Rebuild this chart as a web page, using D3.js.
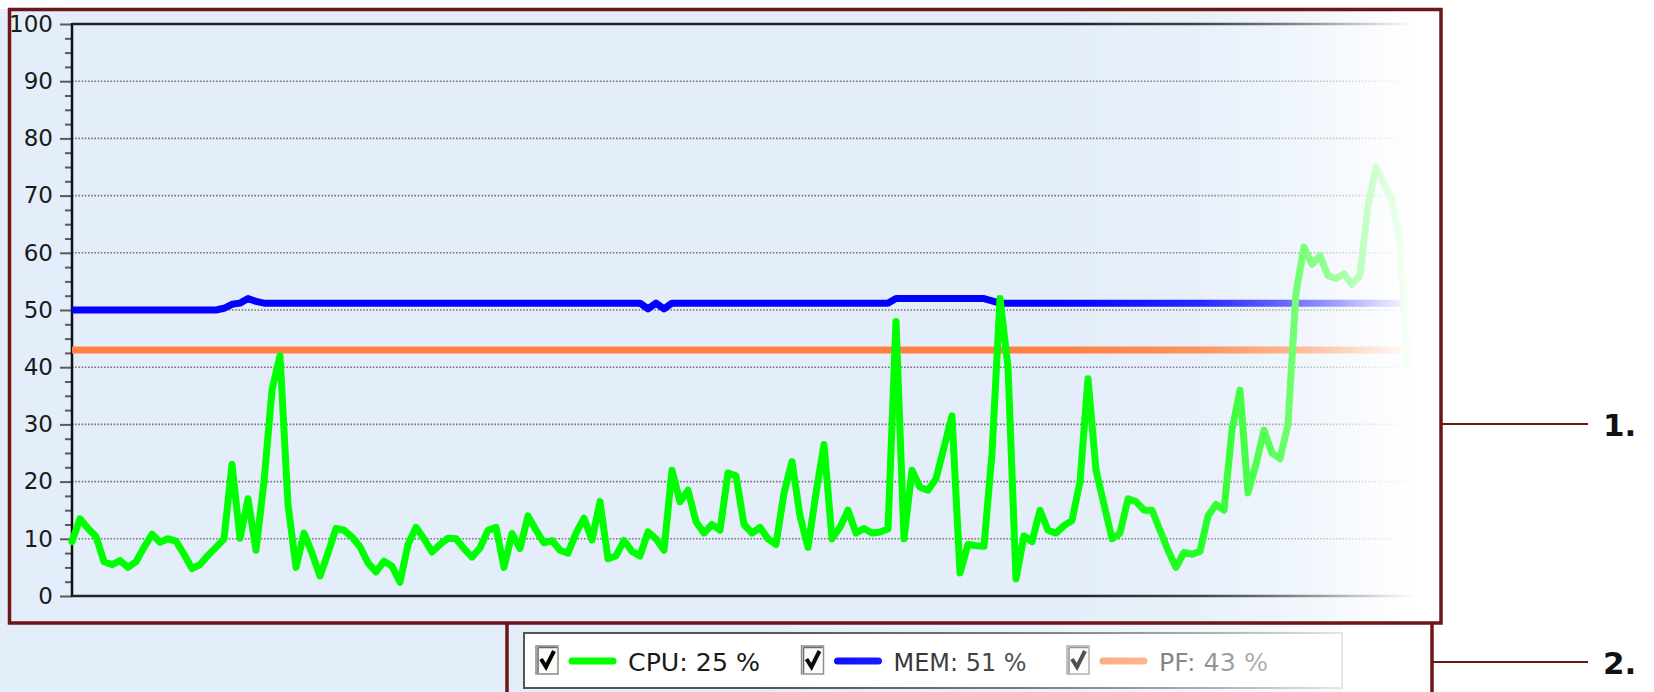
<!DOCTYPE html>
<html>
<head>
<meta charset="utf-8">
<script src="https://cdn.jsdelivr.net/npm/d3@7"></script>
<style>
  html, body { margin: 0; padding: 0; background: #fff; }
  svg { display: block; }
</style>
</head>
<body>
<div id="chart"></div>
<script>
// CPU load, one sample per tick
const cpuValues = [
  9.5, 13.5, 11.8, 10.4, 6, 5.5, 6.2, 5, 6, 8.5,
  10.8, 9.4, 10, 9.6, 7.3, 4.8, 5.5, 7.1, 8.5, 10,
  23, 10.1, 17, 8, 20, 36, 42, 16, 5, 11,
  7.5, 3.5, 7.5, 11.8, 11.5, 10.3, 8.6, 5.8, 4.2, 6.1,
  5.2, 2.4, 9, 12, 10, 7.7, 9, 10.1, 10, 8.3,
  6.8, 8.4, 11.5, 12, 5, 10.9, 8.3, 14, 11.5, 9.3,
  9.7, 8, 7.5, 11, 13.6, 9.8, 16.5, 6.5, 7, 9.7,
  7.8, 7, 11.2, 10, 8, 22, 16.5, 18.5, 13, 11,
  12.5, 11.5, 21.5, 21, 12.5, 11, 12, 10, 9, 18,
  23.5, 14, 8.5, 18, 26.5, 10, 12, 15, 11, 11.8,
  11, 11.2, 11.7, 48, 10, 22, 19, 18.5, 20.5, 26,
  31.5, 4, 9, 8.8, 8.7, 25, 52, 40, 3, 10.5,
  9.5, 15, 11.5, 11, 12.3, 13.2, 20, 38, 22, 16,
  10, 11, 17, 16.5, 15, 15, 11.5, 8, 5, 7.6,
  7.3, 7.8, 14, 16, 15, 29, 36, 18, 23, 29,
  25, 24, 30, 53, 61, 58, 59.5, 56, 55.5, 56.3,
  54.5, 56, 68, 75, 72, 69.5, 62, 40
];

// memory: [sample, value] at each change of level
const memPoints = [
  [0, 50], [18, 50], [19, 50.3], [20, 51], [21, 51.2], [22, 52], [23, 51.5], [24, 51.2],
  [71, 51.2], [72, 50.2], [73, 51.2], [74, 50.2], [75, 51.2],
  [102, 51.2], [103, 52], [114, 52], [115, 51.6], [116, 51.2], [167, 51.2]
];

// page file: flat
const pfLevel = 43;

const yMajorTicks = [0, 10, 20, 30, 40, 50, 60, 70, 80, 90, 100];
const yMinorTicks = [2.5, 5, 7.5, 12.5, 15, 17.5, 22.5, 25, 27.5, 32.5, 35, 37.5,
  42.5, 45, 47.5, 52.5, 55, 57.5, 62.5, 65, 67.5, 72.5, 75, 77.5, 82.5, 85, 87.5,
  92.5, 95, 97.5];
const gridValues = [10, 20, 30, 40, 50, 60, 70, 80, 90];

const legendLabels = ["CPU: 25 %", "MEM: 51 %", "PF: 43 %"];
const seriesColors = ["#00ff00", "#0000ff", "#ff8040"];
const calloutLabels = ["1.", "2."];

const W = 1654, H = 692;
const plot = { left: 72, top: 24, right: 1425, bottom: 596 };
const frameColor = "#6e1616";

const svg = d3.select("#chart").append("svg")
  .attr("width", W).attr("height", H)
  .style("font-family", "'DejaVu Sans', sans-serif");

const defs = svg.append("defs");

// fades
function fade(id, x1, x2, stops) {
  const gr = defs.append("linearGradient").attr("id", id)
    .attr("gradientUnits", "userSpaceOnUse")
    .attr("x1", x1).attr("x2", x2).attr("y1", 0).attr("y2", 0);
  stops.forEach(s => gr.append("stop")
    .attr("offset", (s[0] - x1) / (x2 - x1))
    .attr("stop-color", "#fff").attr("stop-opacity", s[1]));
}
fade("chartFade", 1060, 1441, [[1060, 0], [1200, 0.15], [1270, 0.35], [1320, 0.55], [1375, 0.82], [1415, 1], [1441, 1]]);
fade("legendFade", 760, 1432, [[760, 0], [1000, 0.2], [1120, 0.38], [1220, 0.55], [1342, 0.85], [1432, 1]]);

// window background
svg.append("rect").attr("x", 0).attr("y", 9).attr("width", 1441).attr("height", H - 9)
  .attr("fill", "#e4eefa");

const x = d3.scaleLinear().domain([0, cpuValues.length - 1]).range([72, 1408]);
const y = d3.scaleLinear().domain([0, 100]).range([plot.bottom, plot.top]);

const g = svg.append("g");

// grid
g.selectAll(".grid").data(gridValues).join("line")
  .attr("x1", plot.left).attr("x2", plot.right)
  .attr("y1", d => y(d)).attr("y2", d => y(d))
  .attr("stroke", "#777").attr("stroke-width", 1.6)
  .attr("stroke-dasharray", "1.6 1.6");

// axes
const majorAxis = g.append("g").attr("transform", `translate(${plot.left},0)`)
  .call(d3.axisLeft(y).tickValues(yMajorTicks).tickSize(12).tickSizeOuter(0).tickPadding(7));
const minorAxis = g.append("g").attr("transform", `translate(${plot.left},0)`)
  .call(d3.axisLeft(y).tickValues(yMinorTicks).tickSize(7).tickSizeOuter(0).tickFormat(""));
[majorAxis, minorAxis].forEach(a => {
  a.select(".domain").remove();
  a.selectAll(".tick line").attr("stroke", "#5a5a5a").attr("stroke-width", 2);
});
majorAxis.selectAll(".tick text")
  .attr("fill", "#1a1a1a").style("font-size", "23px").style("font-family", "'DejaVu Sans', sans-serif");

g.append("line").attr("x1", plot.left).attr("x2", plot.left)
  .attr("y1", plot.top - 1).attr("y2", plot.bottom + 1)
  .attr("stroke", "#111").attr("stroke-width", 2.5);
g.append("line").attr("x1", plot.left).attr("x2", plot.right)
  .attr("y1", plot.top).attr("y2", plot.top)
  .attr("stroke", "#222").attr("stroke-width", 2.5);
g.append("line").attr("x1", plot.left).attr("x2", plot.right)
  .attr("y1", plot.bottom).attr("y2", plot.bottom)
  .attr("stroke", "#222").attr("stroke-width", 2.5);

// series
const lineFn = d3.line().x(d => x(d[0])).y(d => y(d[1]));

g.append("path")
  .datum([[0, pfLevel], [cpuValues.length - 1, pfLevel]])
  .attr("d", lineFn).attr("fill", "none")
  .attr("stroke", seriesColors[2]).attr("stroke-width", 7);

g.append("path")
  .datum(memPoints)
  .attr("d", lineFn).attr("fill", "none")
  .attr("stroke", seriesColors[1]).attr("stroke-width", 7)
  .attr("stroke-linejoin", "round");

g.append("path")
  .datum(cpuValues.map((v, i) => [i, v]))
  .attr("d", lineFn).attr("fill", "none")
  .attr("stroke", seriesColors[0]).attr("stroke-width", 7)
  .attr("stroke-linejoin", "round").attr("stroke-linecap", "round");

// right side fade of the chart
svg.append("rect").attr("x", 1060).attr("y", 11).attr("width", 381).attr("height", 611)
  .attr("fill", "url(#chartFade)");

// legend
const leg = svg.append("g");
leg.append("rect").attr("x", 1342).attr("y", 623).attr("width", 312).attr("height", 69).attr("fill", "#fff");
leg.append("rect").attr("x", 524).attr("y", 633).attr("width", 818).attr("height", 55)
  .attr("fill", "#fff").attr("stroke", "#555").attr("stroke-width", 2);

const items = leg.selectAll(".item").data(legendLabels).join("g")
  .attr("transform", (d, i) => `translate(${536 + i * 265.5},0)`);
items.append("rect").attr("x", 0).attr("y", 646).attr("width", 22).attr("height", 28)
  .attr("fill", "#fbfbf8").attr("stroke", "#8a8a8a").attr("stroke-width", 1.5);
items.append("path").attr("d", "M2,647.5 H21 M2,647.5 V673")
  .attr("stroke", "#666").attr("stroke-width", 1.5).attr("fill", "none");
items.append("path").attr("d", "M5,659 L10,667 L18,651")
  .attr("fill", "none").attr("stroke", "#000").attr("stroke-width", 4);
items.append("line").attr("x1", 36).attr("x2", 77).attr("y1", 661).attr("y2", 661)
  .attr("stroke", (d, i) => seriesColors[i]).attr("stroke-width", 7).attr("stroke-linecap", "round");
items.append("text").attr("x", 92).attr("y", 671)
  .attr("textLength", (d, i) => [132, 133, 109][i]).attr("lengthAdjust", "spacingAndGlyphs")
  .attr("fill", "#1a1a1a").style("font-size", "25px")
  .text(d => d);

svg.append("rect").attr("x", 760).attr("y", 625).attr("width", 672).attr("height", 67)
  .attr("fill", "url(#legendFade)");

// callout frames
svg.append("rect").attr("x", 9.5).attr("y", 9.5).attr("width", 1431.5).attr("height", 613.5)
  .attr("fill", "none").attr("stroke", frameColor).attr("stroke-width", 3.5);
svg.append("path").attr("d", "M507,623 V692 M1432,623 V692")
  .attr("fill", "none").attr("stroke", frameColor).attr("stroke-width", 3.5);

const callY = [424, 662];
const callX0 = [1441, 1432];
svg.selectAll(".callout").data(calloutLabels).join("line")
  .attr("x1", (d, i) => callX0[i]).attr("x2", 1588)
  .attr("y1", (d, i) => callY[i]).attr("y2", (d, i) => callY[i])
  .attr("stroke", frameColor).attr("stroke-width", 2);
svg.selectAll(".calloutText").data(calloutLabels).join("text")
  .attr("x", 1603).attr("y", (d, i) => callY[i] + 12)
  .attr("fill", "#111").style("font-size", "31px").style("font-weight", "bold")
  .text(d => d);
</script>
</body>
</html>
